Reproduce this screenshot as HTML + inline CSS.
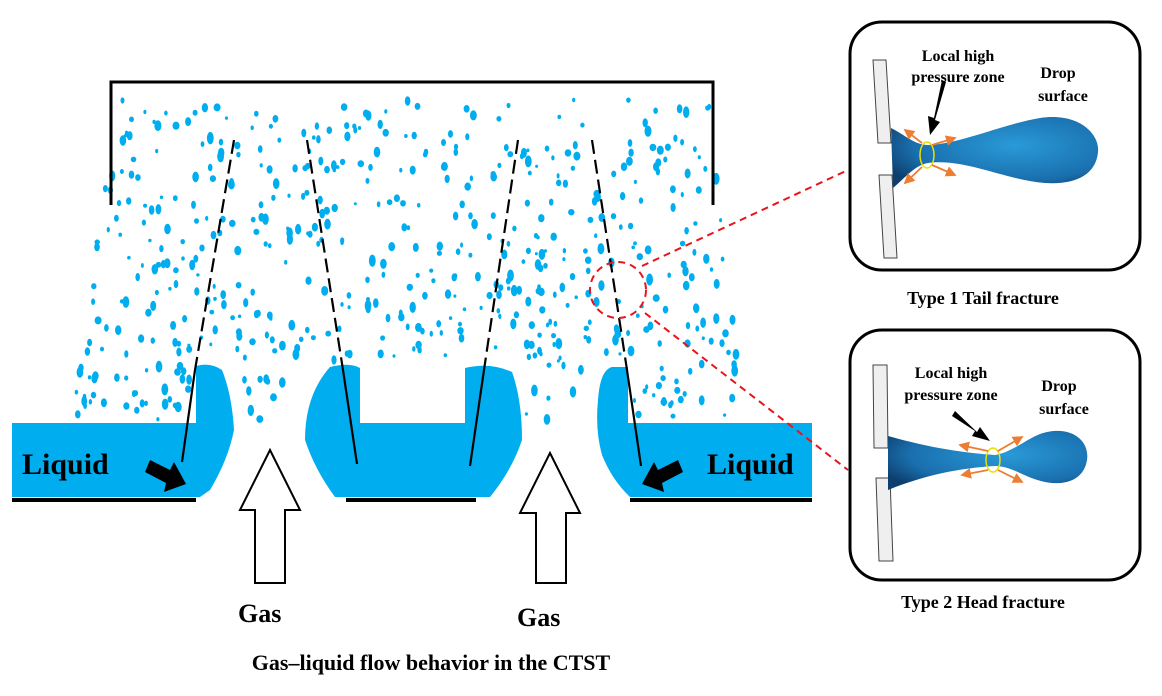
<!DOCTYPE html>
<html><head><meta charset="utf-8"><style>
html,body{margin:0;padding:0;background:#fff;}
svg{display:block;}
text{font-family:"Liberation Serif",serif;font-weight:bold;fill:#000;}
</style></head><body>
<svg id="s" width="1162" height="696" viewBox="0 0 1162 696" xmlns="http://www.w3.org/2000/svg">
<defs>
<radialGradient id="dg" cx="0.6" cy="0.4" r="0.7">
<stop offset="0" stop-color="#2a9ad8"/><stop offset="0.7" stop-color="#1a6fae"/><stop offset="1" stop-color="#0d3f6e"/>
</radialGradient>
<marker id="oa" markerWidth="6" markerHeight="6" refX="5" refY="3" orient="auto"><path d="M0,0 L6,3 L0,6 z" fill="#ed7d31"/></marker>
</defs>
<g id="drops" fill="#00aeef"></g>
<path d="M111,205 V82 H713 V205" fill="none" stroke="#000" stroke-width="3"/>
<g fill="#00aeef">
<path d="M12,423 H196 V366 Q210,362 222,370 Q232,395 234,430 Q228,460 210,490 L200,497 H12 Z"/>
<path d="M330,367 Q350,362 360,368 V423 H465 V368 Q490,362 512,372 Q522,400 522,440 Q512,470 490,497 H335 Q315,470 305,440 Q305,395 330,367 Z"/>
<path d="M612,367 Q600,370 598,400 Q595,430 602,455 Q612,480 630,497 H812 V423 H628 V367 Z"/>
</g>
<g stroke="#000" stroke-width="4">
<line x1="12" y1="500" x2="196" y2="500"/><line x1="346" y1="500" x2="476" y2="500"/><line x1="630" y1="500" x2="812" y2="500"/>
</g>
<g stroke="#000" stroke-width="2.2">
<line x1="234" y1="140" x2="195" y2="370" stroke-dasharray="14,6"/><line x1="195" y1="370" x2="182" y2="462"/>
<line x1="307" y1="140" x2="343" y2="370" stroke-dasharray="14,6"/><line x1="343" y1="370" x2="357" y2="464"/>
<line x1="518" y1="140" x2="484" y2="370" stroke-dasharray="14,6"/><line x1="484" y1="370" x2="470" y2="466"/>
<line x1="592" y1="140" x2="627" y2="370" stroke-dasharray="14,6"/><line x1="627" y1="370" x2="641" y2="466"/>
</g>
<path d="M145,472 L150,460 L170,470 L174,462 L186,484 L164,492 L166,483 Z" fill="#000"/>
<path d="M683,472 L678,460 L658,470 L654,462 L642,484 L664,492 L662,483 Z" fill="#000"/>
<g fill="#fff" stroke="#000" stroke-width="2">
<path d="M270,450 L300,510 H285 V583 H255 V510 H240 Z"/>
<path d="M550,453 L580,513 H566 V583 H536 V513 H520 Z"/>
</g>
<text x="22" y="474" font-size="30">Liquid</text>
<text x="707" y="474" font-size="30">Liquid</text>
<text x="238" y="622" font-size="26">Gas</text>
<text x="517" y="626" font-size="26">Gas</text>
<text x="431" y="670" font-size="22" text-anchor="middle">Gas–liquid flow behavior in the CTST</text>
<g fill="none" stroke="#e8141c" stroke-width="2" stroke-dasharray="7,5">
<circle cx="618" cy="290" r="28"/>
<line x1="642" y1="266" x2="848" y2="170"/>
<line x1="645" y1="313" x2="848" y2="470"/>
</g>
<g fill="none" stroke="#000" stroke-width="3">
<rect x="850" y="22" width="290" height="248" rx="32"/>
<rect x="850" y="330" width="290" height="250" rx="32"/>
</g>
<text x="983" y="304" font-size="18" text-anchor="middle">Type 1 Tail fracture</text>
<text x="983" y="608" font-size="18" text-anchor="middle">Type 2 Head fracture</text>
<g fill="#efefef" stroke="#444" stroke-width="1">
<path d="M873,60 L886,60 L891,143 L878,143 Z"/><path d="M879,175 L892,175 L897,258 L884,258 Z"/>
<path d="M873,365 L887,365 L888,448 L874,448 Z"/><path d="M876,478 L890,478 L893,561 L879,561 Z"/>
</g>
<path d="M891,128 C905,135 915,145 928,145 C960,144 1000,125 1040,118 C1080,112 1100,135 1098,152 C1096,175 1075,185 1045,183 C1005,180 965,158 928,163 C915,165 905,178 893,188 Z" fill="url(#dg)"/>
<path d="M888,436 C930,448 965,453 995,455 C1012,452 1025,440 1040,434 C1070,424 1090,440 1087,460 C1084,480 1065,486 1045,482 C1025,478 1012,466 995,466 C960,468 925,475 888,490 Z" fill="url(#dg)"/>
<g fill="none" stroke="#e8e000" stroke-width="1.5">
<ellipse cx="927" cy="155" rx="7" ry="13"/><ellipse cx="993" cy="460" rx="7" ry="12"/>
</g>
<g stroke="#ed7d31" stroke-width="1.8" marker-end="url(#oa)">
<line x1="922" y1="143" x2="905" y2="130"/><line x1="932" y1="145" x2="955" y2="138"/>
<line x1="922" y1="167" x2="905" y2="183"/><line x1="932" y1="165" x2="955" y2="175"/>
<line x1="988" y1="451" x2="960" y2="445"/><line x1="998" y1="451" x2="1022" y2="437"/>
<line x1="988" y1="470" x2="962" y2="475"/><line x1="998" y1="470" x2="1022" y2="482"/>
</g>
<path d="M942,80 L934,118 L928,116 L930,135 L940,122 L935,120 L946,82 Z" fill="#000"/>
<path d="M952,416 L975,431 L972,436 L990,441 L980,427 L977,432 L955,411 Z" fill="#000"/>
<g font-size="16">
<text x="958" y="61" text-anchor="middle">Local high</text><text x="958" y="82" text-anchor="middle">pressure zone</text>
<text x="1058" y="78" text-anchor="middle">Drop</text><text x="1063" y="101" text-anchor="middle">surface</text>
<text x="951" y="378" text-anchor="middle">Local high</text><text x="951" y="400" text-anchor="middle">pressure zone</text>
<text x="1059" y="391" text-anchor="middle">Drop</text><text x="1064" y="414" text-anchor="middle">surface</text>
</g>
</svg>
<script>
(function(){
var s=7,g=document.getElementById('drops'),ns='http://www.w3.org/2000/svg';
function r(){s=(s*16807)%2147483647;return s/2147483647;}
function inside(x,y){
 if(y>420)return false;
 if(y>360&&((x>190&&x<238)||(x>300&&x<526)||(x>590&&x<634)))return false;
 var t=(y-100)/340, L=115-45*t, R=710+40*t;
 return x>L&&x<R;
}
var n=0;
while(n<560){
 var x=70+r()*690,y=100+r()*330;
 if(!inside(x,y))continue;
 if(y<118&&r()<0.5)continue;
 var e=document.createElementNS(ns,'ellipse');
 var a=1.5+r()*2;
 e.setAttribute('cx',x.toFixed(1));e.setAttribute('cy',y.toFixed(1));
 e.setAttribute('rx',a.toFixed(1));e.setAttribute('ry',(a*(1+r()*0.8)).toFixed(1));
 g.appendChild(e);n++;
}
})();
</script>
</body></html>
